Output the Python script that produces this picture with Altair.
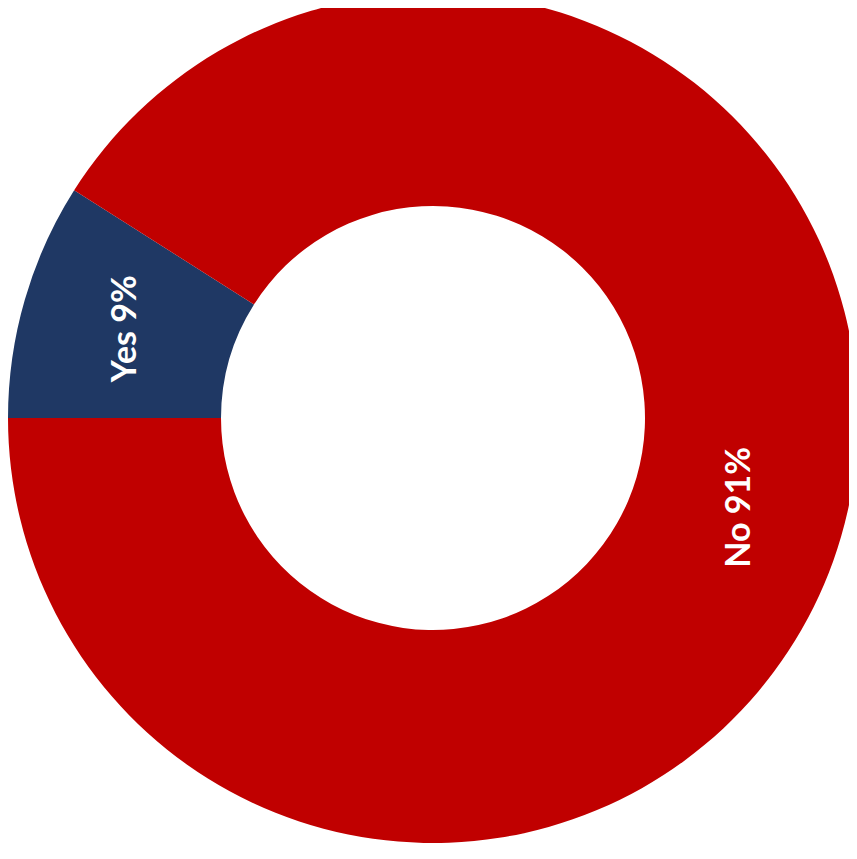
import math
import altair as alt
import pandas as pd

categories = ["Yes", "No"]
values = [9, 91]
labels = ["Yes 9%", "No 91%"]
colors = ["#1F3864", "#C00000"]

df = pd.DataFrame({"category": categories, "value": values, "label": labels, "order": [0, 1]})

start = 1.5 * math.pi
theta_scale = alt.Scale(range=[start, start + 2 * math.pi])

base = alt.Chart(df).encode(
    theta=alt.Theta("value:Q", stack=True, scale=theta_scale),
    order=alt.Order("order:Q"),
)

cx, cy = 425, 410

arcs = base.mark_arc(stroke=None).encode(
    x=alt.value(cx),
    y=alt.value(cy),
    radius=alt.value(425),
    radius2=alt.value(212),
    color=alt.Color("category:N", scale=alt.Scale(domain=categories, range=colors), legend=None),
)

text = base.mark_text(
    angle=270, font="Lato", fontWeight="bold", fontSize=34, color="white",
    align="center", baseline="middle",
).encode(
    x=alt.value(cx),
    y=alt.value(cy),
    radius=alt.value(320),
    text="label:N",
)

chart = alt.layer(arcs, text).properties(
    width=841, height=843, padding=0,
    autosize=alt.AutoSizeParams(type="none"),
).configure_view(stroke=None)

chart.save("out.html", embed_options={"renderer": "svg", "actions": False})
